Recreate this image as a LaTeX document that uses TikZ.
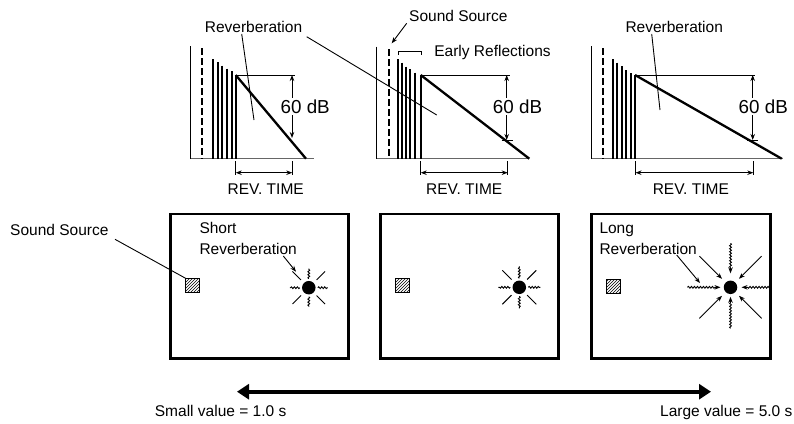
\documentclass[tikz,border=0pt]{standalone}
\usepackage{fontspec}
\setmainfont{Liberation Sans}
\usetikzlibrary{arrows.meta,patterns,decorations.pathmorphing}
\begin{document}
\begin{tikzpicture}[x=1pt,y=-1pt,
  lbl/.style={font=\fontsize{15.5}{18}\selectfont, inner sep=0pt},
  dblbl/.style={font=\fontsize{18.8}{22}\selectfont, inner sep=1.5pt, fill=white},
  axisv/.style={line width=1pt},
  axish/.style={line width=1.2pt, black!60},
  refl/.style={line width=1.8pt},
  decay/.style={line width=2.3pt},
  direct/.style={line width=2pt, dash pattern=on 6.5pt off 3.5pt},
  thinl/.style={line width=0.9pt},
  tip/.style={-{Stealth[length=6pt,width=4.5pt]}},
  dtip/.style={{Stealth[length=6pt,width=4.5pt]}-{Stealth[length=6pt,width=4.5pt]}},
  room/.style={draw, line width=2.6pt},
  src/.style={draw, line width=0.8pt, pattern=north east lines, minimum size=13.5pt, inner sep=0pt},
  lis/.style={circle, fill, minimum size=13.5pt, inner sep=0pt},
  wavy/.style={decorate, decoration={snake, amplitude=0.9pt, segment length=3pt}},
  wavytip/.style={decorate, decoration={snake, amplitude=0.9pt, segment length=3pt, post length=5pt}},
]
\useasboundingbox (0,0) rectangle (794,423);

% ---------------- Panel 1 ----------------
\draw[axisv] (190.7,46) -- (190.7,158.7);
\draw[axish] (190.7,158.7) -- (314,158.7);
\draw[direct] (202.3,48) -- (202.3,158.7);
\foreach \x/\t in {212.7/59.3, 217.7/62.3, 222.3/65.7, 227.3/68.7, 231.7/71.3, 235.7/75}
  \draw[refl] (\x,\t) -- (\x,158.7);
\coordinate (p1s) at (235.7,75);
\coordinate (p1e) at (306,158.7);
\draw[decay] (p1s) -- (p1e);
\draw[thinl] (p1s) -- (295,75);
\coordinate (p1a) at (292,75);
\coordinate (p1b) at (292,138);
\draw[thinl,dtip] (p1a) -- (p1b);
\node[dblbl, anchor=base] (db1) at (305.2,113.3) {60 dB};
\draw[thinl] (235.7,161) -- (235.7,175);
\draw[thinl] (292.3,161) -- (292.3,175);
\coordinate (r1a) at (235.7,172.7);
\coordinate (r1b) at (292.3,172.7);
\draw[thinl,dtip] (r1a) -- (r1b);
\node[lbl, anchor=base] (rt1) at (265.7,194) {REV. TIME};
\node[lbl, anchor=base] (rev1) at (253.5,32.3) {Reverberation};
\coordinate (rev1a) at (241.7,34);
\coordinate (rev1b) at (254,120);
\coordinate (rev1c) at (306.7,36.7);
\coordinate (rev1d) at (436.7,115);
\draw[thinl] (rev1a) -- (rev1b);
\draw[thinl] (rev1c) -- (rev1d);

% ---------------- Panel 2 ----------------
\draw[axisv] (376.7,46.7) -- (376.7,158.7);
\draw[axish] (376.7,158.7) -- (529.3,158.7);
\draw[direct] (389,49) -- (389,158.7);
\foreach \x/\t in {398.3/59.3, 402.3/62.7, 406.3/66.7, 410.3/69.3, 415.3/72.7, 420.7/75}
  \draw[refl] (\x,\t) -- (\x,158.7);
\coordinate (p2s) at (420.7,75);
\coordinate (p2e) at (529.3,158.7);
\draw[decay] (p2s) -- (p2e);
\draw[thinl] (p2s) -- (510,75);
\coordinate (p2a) at (506.7,75);
\coordinate (p2b) at (506.7,140);
\draw[thinl,dtip] (p2a) -- (p2b);
\draw[thinl] (501.7,140) -- (512.7,140);
\node[dblbl, anchor=base] (db2) at (517.5,113.3) {60 dB};
\draw[thinl] (420.7,161) -- (420.7,175);
\draw[thinl] (507.7,161) -- (507.7,175);
\coordinate (r2a) at (420.7,172.7);
\coordinate (r2b) at (507.7,172.7);
\draw[thinl,dtip] (r2a) -- (r2b);
\node[lbl, anchor=base] (rt2) at (464.2,194) {REV. TIME};
\node[lbl, anchor=base] (ss2) at (458.3,21.7) {Sound Source};
\coordinate (ss2a) at (406.7,23.3);
\coordinate (ss2b) at (391.7,43.3);
\draw[thinl,tip] (ss2a) -- (ss2b);
\draw[thinl] (398.3,55) -- (398.3,51.7) -- (421,51.7) -- (421,55);
\node[lbl, anchor=base] (er) at (492.5,56.7) {Early Reflections};

% ---------------- Panel 3 ----------------
\draw[axisv] (591.7,46) -- (591.7,158.7);
\draw[axish] (591.7,158.7) -- (783.3,158.7);
\draw[direct] (603.3,48) -- (603.3,158.7);
\foreach \x/\t in {613.3/59.3, 617.3/62.7, 621.7/66, 626/70, 630.7/73.3, 635/75}
  \draw[refl] (\x,\t) -- (\x,158.7);
\coordinate (p3s) at (635,75);
\coordinate (p3e) at (781.7,158.7);
\draw[decay] (p3s) -- (p3e);
\draw[thinl] (p3s) -- (755,75);
\coordinate (p3a) at (752.7,75);
\coordinate (p3b) at (752.7,140);
\draw[thinl,dtip] (p3a) -- (p3b);
\draw[thinl] (747.2,140) -- (758.2,140);
\node[dblbl, anchor=base] (db3) at (763.3,113.3) {60 dB};
\draw[thinl] (635.5,161) -- (635.5,175);
\draw[thinl] (753.3,161) -- (753.3,175);
\coordinate (r3a) at (635.5,172.7);
\coordinate (r3b) at (753.3,172.7);
\draw[thinl,dtip] (r3a) -- (r3b);
\node[lbl, anchor=base] (rt3) at (690.8,194) {REV. TIME};
\node[lbl, anchor=base] (rev3) at (674.2,32.3) {Reverberation};
\coordinate (rev3a) at (651.7,34);
\coordinate (rev3b) at (660,110);
\draw[thinl] (rev3a) -- (rev3b);

% ---------------- Rooms ----------------
\draw[room] (170.7,214) rectangle (348.3,358.3);
\draw[room] (380.5,214) rectangle (558.3,358.3);
\draw[room] (591.7,214) rectangle (770.7,358.3);

% room 1
\node[lbl, anchor=base west] (ssl) at (10,235) {Sound Source};
\node[src] (sq1) at (192.5,285.3) {};
\coordinate (ssa) at (115,239.3);
\draw[thinl] (ssa) -- (sq1.north west);
\node[lbl, anchor=base west] (sh) at (199.3,233.3) {Short};
\node[lbl, anchor=base west] (shr) at (199.3,254) {Reverberation};
\node[lis] (st1) at (308.8,287.7) {};
\coordinate (sha) at (283.3,256);
\coordinate (shb) at (296,271.7);
\draw[thinl,tip] (sha) -- (shb);
\begin{scope}[shift={(st1.center)}]
  \foreach \a in {0,90,180,270} \draw[thinl,wavy] (\a:9) -- (\a:19);
  \foreach \a in {45,135,225,315} \draw[thinl] (\a:11) -- (\a:23);
\end{scope}

% room 2
\node[src] (sq2) at (402.5,285.3) {};
\node[lis] (st2) at (519.3,287.3) {};
\begin{scope}[shift={(st2.center)}]
  \foreach \a in {0,90,180,270} \draw[thinl,wavy] (\a:9) -- (\a:21);
  \foreach \a in {45,135,225,315} \draw[thinl] (\a:11) -- (\a:24);
\end{scope}

% room 3
\node[lbl, anchor=base west] (lg) at (599.3,233.3) {Long};
\node[lbl, anchor=base west] (lgr) at (599.3,254) {Reverberation};
\node[src] (sq3) at (613.3,286.3) {};
\node[lis] (st3) at (730.5,287.3) {};
\coordinate (lga) at (676.7,255);
\coordinate (lgb) at (700,283);
\draw[thinl,tip] (lga) -- (lgb);
\begin{scope}[shift={(st3.center)}]
  \draw[thinl,tip,wavytip] (180:43) -- (180:10);
  \draw[thinl,tip,wavytip] (0:40) -- (0:11);
  \draw[thinl,tip,wavytip] (270:44) -- (270:14);
  \draw[thinl,tip,wavytip] (90:41) -- (90:9.5);
  \foreach \a in {45,135,225,315} \draw[thinl,tip] (\a:44) -- (\a:12);
\end{scope}

% ---------------- Bottom scale ----------------
\coordinate (bl) at (237,391.7);
\coordinate (br) at (711,391.7);
\draw[line width=4pt,{Triangle[length=12pt,width=15pt]}-{Triangle[length=12pt,width=15pt]}] (bl) -- (br);
\node[lbl, anchor=base west] (sv) at (154.7,416) {Small value = 1.0 s};
\node[lbl, anchor=base east] (lv) at (792.6,416) {Large value = 5.0 s};
\end{tikzpicture}
\end{document}
